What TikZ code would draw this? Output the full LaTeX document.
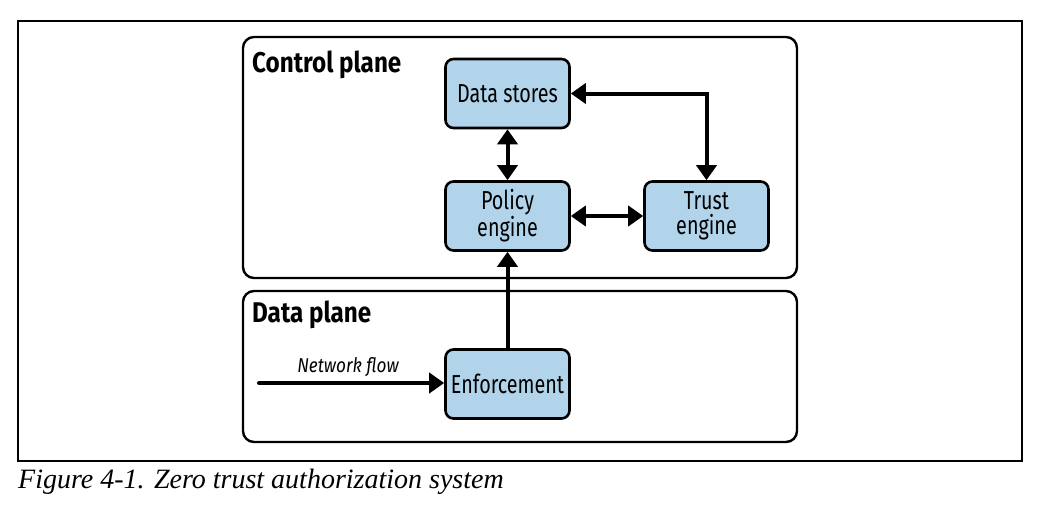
\documentclass[tikz,border=0pt]{standalone}
\usepackage{fontspec}
\usetikzlibrary{arrows.meta}
\newfontfamily\dfont[FakeStretch=0.76]{Fira Sans}
\newfontfamily\hfont[FakeStretch=0.85]{Fira Sans}
\newfontfamily\lfont[FakeStretch=0.86]{Fira Sans}
\newfontfamily\capfont{Liberation Serif}
\definecolor{boxblue}{RGB}{178,212,235}
\tikzset{
  plane/.style={draw=black, line width=2.4pt, rounded corners=11pt},
  comp/.style={draw=black, line width=2.6pt, rounded corners=8pt, fill=boxblue,
    minimum width=124pt, minimum height=69pt, inner sep=0pt, align=center,
    font=\dfont\fontsize{26}{25}\selectfont},
  arr/.style={line width=4pt, {Triangle[length=15pt,width=20pt]}-{Triangle[length=15pt,width=20pt]}},
  arrone/.style={line width=4pt, line cap=round, -{Triangle[length=15pt,width=20pt]}},
  hdr/.style={anchor=base west, inner sep=0pt, font=\hfont\bfseries\fontsize{28.5}{30}\selectfont},
}
\begin{document}
\begin{tikzpicture}[x=1pt,y=-1pt]
\useasboundingbox (0,0) rectangle (1040,519);
\draw[line width=1.3pt] (18,21) rectangle (1022,461);
\draw[plane] (243,37) rectangle (797,278);
\draw[plane] (243,291) rectangle (797,442);
\node[hdr] (cp) at (252,72) {Control plane};
\node[hdr] (dp) at (252,322) {Data plane};
\node[comp] (ds) at (507.5,93.5) {Data stores};
\node[comp] (pe) at (507.5,216) {Policy\\engine};
\node[comp] (te) at (706.5,216) {Trust\\engine};
\node[comp] (en) at (507.5,384) {Enforcement};
\draw[arr] (ds.south) -- (pe.north);
\draw[arr] (ds.east) -| (te.north);
\draw[arr] (pe.east) -- (te.west);
\draw[arrone] (en.north) -- (pe.south);
\coordinate (nf) at (259,383);
\draw[arrone] (nf) -- (en.west |- nf);
\node[anchor=base, inner sep=0pt, font=\lfont\itshape\fontsize{20}{22}\selectfont] (nfl) at (348,372) {Network flow};
\node[anchor=base west, inner sep=0pt, font=\capfont\itshape\fontsize{28}{30}\selectfont] (cap) at (18,488) {Figure 4-1. Zero trust authorization system};
\end{tikzpicture}
\end{document}
